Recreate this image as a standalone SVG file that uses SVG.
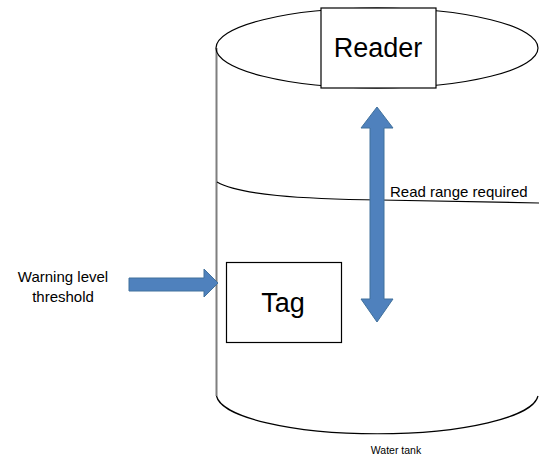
<svg xmlns="http://www.w3.org/2000/svg" width="539" height="457" viewBox="0 0 539 457">
<style>
.ln{fill:none;stroke:#000;stroke-width:1.2}
.side{fill:none;stroke:#7f7f7f;stroke-width:2}
.box{fill:#fff;stroke:#000;stroke-width:1.2}
.arr{fill:#4f81bd;stroke:#41719c;stroke-width:1}
.t{font-family:"Liberation Sans",Arial,sans-serif;fill:#000}
</style>
<rect width="539" height="457" fill="#fff"/>
<g id="tank">
<path class="side" d="M216.5,48 V396"/>
<ellipse class="ln" cx="377" cy="48" rx="161" ry="40"/>
<path class="ln" d="M216.5,396 A161,40 0 0 0 538,396"/>
<path class="ln" d="M217,182 C240,195 300,199 380,200 L539,203"/>
<text class="t" x="396" y="454" font-size="10.5" text-anchor="middle">Water tank</text>
</g>
<g id="reader">
<rect class="box" x="321" y="8" width="115" height="80"/>
<text class="t" x="378" y="57" font-size="27" text-anchor="middle">Reader</text>
</g>
<g id="tag">
<rect class="box" x="226.5" y="262.5" width="115" height="80"/>
<text class="t" x="283" y="312" font-size="27" text-anchor="middle">Tag</text>
</g>
<g id="warning">
<text class="t" x="63" y="282" font-size="15" text-anchor="middle">Warning level</text>
<text class="t" x="63" y="302" font-size="15" text-anchor="middle">threshold</text>
</g>
<g id="connectors">
<polygon class="arr" points="377,107 393,128 384,128 384,299 393,299 377,322 361,299 370,299 370,128 361,128"/>
<polygon class="arr" points="129,278 204,278 204,269 218,283 204,297 204,291 129,291"/>
<text class="t" x="390" y="197" font-size="15">Read range required</text>
</g>
</svg>
